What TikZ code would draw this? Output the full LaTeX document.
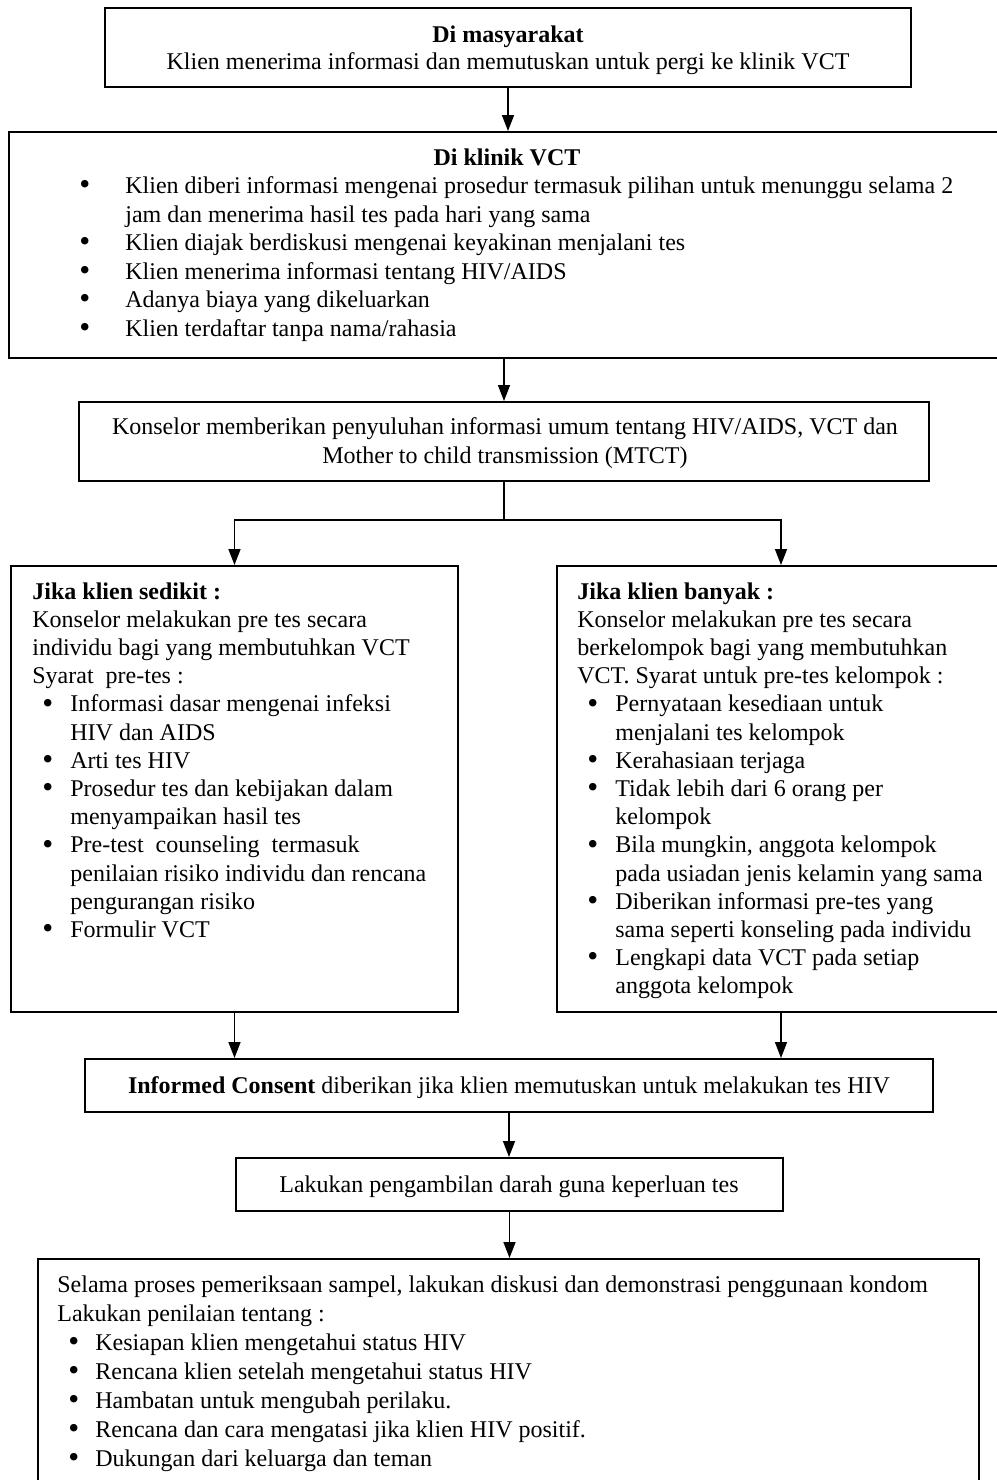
\documentclass[tikz,border=0pt]{standalone}
\usepackage{fontspec}
\setmainfont{Liberation Serif}
\usetikzlibrary{arrows.meta}
% bullet with its hanging indent: \bul{indent}{offset of the bullet}
\newcommand\dotmark{\raisebox{-0.12ex}{\scalebox{1.3}{\textbullet}}}
\newcommand\bul[2]{\makebox[#1][l]{\hspace{#2}\dotmark}}
\newcommand\hang[1]{\makebox[#1][l]{}}
\begin{document}
\begin{tikzpicture}[x=0.5pt,y=-0.5pt,
  box/.style={draw, line width=1pt, inner sep=0pt},
  arr/.style={-{Triangle[length=8pt,width=6pt]}, line width=0.75pt},
  link/.style={line width=0.75pt},
  txt/.style={inner sep=0pt, font=\fontsize{12pt}{14.1pt}\selectfont},
  txtb/.style={txt, align=left, anchor=base west},
]
\useasboundingbox (0,0) rectangle (997,1480);
\clip (0,0) rectangle (997,1480);

% boxes
\node[box, minimum width=403pt, minimum height=39.5pt] (b1) at (508,47.5) {};
\node[box, minimum width=500.5pt, minimum height=113pt] (b2) at (509.5,245) {};
\node[box, minimum width=425pt, minimum height=39.5pt] (b3) at (504,441.5) {};
\node[box, minimum width=223.5pt, minimum height=223pt] (bl) at (234.5,789) {};
\node[box, minimum width=224pt, minimum height=223pt] (br) at (781,789) {};
\node[box, minimum width=424pt, minimum height=26.5pt] (bic) at (509,1085.5) {};
\node[box, minimum width=273.5pt, minimum height=26.5pt] (blk) at (509.5,1184.5) {};
\node[box, minimum width=470.5pt, minimum height=120.5pt] (bf) at (508.5,1379.5) {};

% texts (multi-line nodes are placed at the baseline of their last line)
\node[txt, align=center, anchor=base, font=\fontsize{12pt}{13.5pt}\selectfont] (t1) at (508,69)
  {\textbf{Di masyarakat}\\Klien menerima informasi dan memutuskan untuk pergi ke klinik VCT};

\node[txt, anchor=base] (t2h) at (507,165) {\textbf{Di klinik VCT}};
\node[txtb, font=\fontsize{12pt}{14.25pt}\selectfont] (t2) at (79,336)
  {\bul{23pt}{0pt}Klien diberi informasi mengenai prosedur termasuk pilihan untuk menunggu selama 2\\
   \hang{23pt}jam dan menerima hasil tes pada hari yang sama\\
   \bul{23pt}{0pt}Klien diajak berdiskusi mengenai keyakinan menjalani tes\\
   \bul{23pt}{0pt}Klien menerima informasi tentang HIV/AIDS\\
   \bul{23pt}{0pt}Adanya biaya yang dikeluarkan\\
   \bul{23pt}{0pt}Klien terdaftar tanpa nama/rahasia};

\node[txt, align=center, anchor=base, font=\fontsize{12pt}{14.5pt}\selectfont] (t3) at (505,463.5)
  {Konselor memberikan penyuluhan informasi umum tentang HIV/AIDS, VCT dan\\
   Mother to child transmission (MTCT)};

\node[txtb] (tl) at (32,937.4)
  {\textbf{Jika klien sedikit :}\\
   Konselor melakukan pre tes secara\\
   individu bagi yang membutuhkan VCT\\
   Syarat\ \ pre-tes :\\
   \bul{19pt}{5pt}Informasi dasar mengenai infeksi\\
   \hang{19pt}HIV dan AIDS\\
   \bul{19pt}{5pt}Arti tes HIV\\
   \bul{19pt}{5pt}Prosedur tes dan kebijakan dalam\\
   \hang{19pt}menyampaikan hasil tes\\
   \bul{19pt}{5pt}Pre-test\ \ counseling\ \ termasuk\\
   \hang{19pt}penilaian risiko individu dan rencana\\
   \hang{19pt}pengurangan risiko\\
   \bul{19pt}{5pt}Formulir VCT};

\node[txtb] (tr) at (577,993.8)
  {\textbf{Jika klien banyak :}\\
   Konselor melakukan pre tes secara\\
   berkelompok bagi yang membutuhkan\\
   VCT. Syarat untuk pre-tes kelompok :\\
   \bul{19pt}{5pt}Pernyataan kesediaan untuk\\
   \hang{19pt}menjalani tes kelompok\\
   \bul{19pt}{5pt}Kerahasiaan terjaga\\
   \bul{19pt}{5pt}Tidak lebih dari 6 orang per\\
   \hang{19pt}kelompok\\
   \bul{19pt}{5pt}Bila mungkin, anggota kelompok\\
   \hang{19pt}pada usiadan jenis kelamin yang sama\\
   \bul{19pt}{5pt}Diberikan informasi pre-tes yang\\
   \hang{19pt}sama seperti konseling pada individu\\
   \bul{19pt}{5pt}Lengkapi data VCT pada setiap\\
   \hang{19pt}anggota kelompok};

\node[txt, anchor=base] (tic) at (509,1093)
  {\textbf{Informed Consent} diberikan jika klien memutuskan untuk melakukan tes HIV};
\node[txt, anchor=base] (tlk) at (509,1192)
  {Lakukan pengambilan darah guna keperluan tes};

\node[txtb, font=\fontsize{12pt}{14.5pt}\selectfont] (tf) at (57,1466)
  {Selama proses pemeriksaan sampel, lakukan diskusi dan demonstrasi penggunaan kondom\\
   Lakukan penilaian tentang :\\
   \bul{19pt}{5.5pt}Kesiapan klien mengetahui status HIV\\
   \bul{19pt}{5.5pt}Rencana klien setelah mengetahui status HIV\\
   \bul{19pt}{5.5pt}Hambatan untuk mengubah perilaku.\\
   \bul{19pt}{5.5pt}Rencana dan cara mengatasi jika klien HIV positif.\\
   \bul{19pt}{5.5pt}Dukungan dari keluarga dan teman};

% connectors
\draw[arr] (b1.south) -- (b1.south |- b2.north);
\draw[arr] (b3.north |- b2.south) -- (b3.north);
\coordinate (split) at (504,520);
\draw[link] (b3.south) -- (split);
\draw[arr] (split) -| (bl.north);
\draw[arr] (split) -| (br.north);
\draw[arr] (bl.south) -- (bl.south |- bic.north);
\draw[arr] (br.south) -- (br.south |- bic.north);
\draw[arr] (bic.south) -- (bic.south |- blk.north);
\draw[arr] (blk.south) -- (blk.south |- bf.north);
\end{tikzpicture}
\end{document}
